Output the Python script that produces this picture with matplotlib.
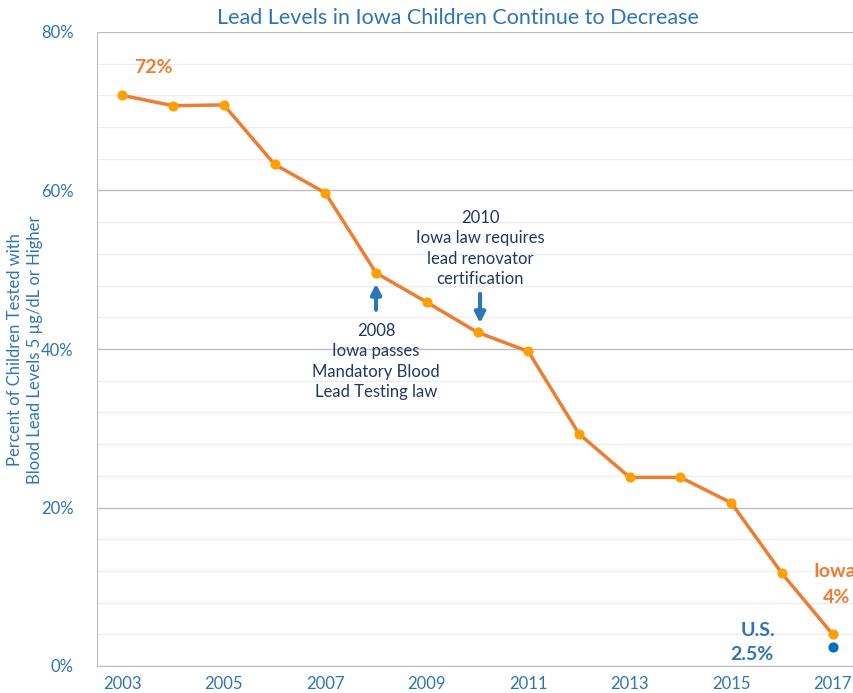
import matplotlib
matplotlib.use('Agg')
import matplotlib.pyplot as plt
from matplotlib.ticker import MultipleLocator, PercentFormatter

years = list(range(2003, 2018))
iowa_pct = [72.0, 70.7, 70.8, 63.3, 59.7, 49.6, 45.9, 42.1, 39.7, 29.3, 23.8, 23.8, 20.6, 11.7, 4.0]
us_year = 2017
us_pct = 2.4
xtick_years = [2003, 2005, 2007, 2009, 2011, 2013, 2015, 2017]

title = 'Lead Levels in Iowa Children Continue to Decrease'
ylabel = 'Percent of Children Tested with\nBlood Lead Levels 5 µg/dL or Higher'
note_2008 = '2008\nIowa passes\nMandatory Blood\nLead Testing law'
note_2010 = '2010\nIowa law requires\nlead renovator\ncertification'

ORANGE = '#ED7D31'
AMBER = '#FFA000'
BLUE = '#2E75B6'
DARK = '#1F3864'

plt.rcParams['font.family'] = ['Lato', 'DejaVu Sans']

fig = plt.figure(figsize=(8.54, 6.93), dpi=100)
ax = fig.add_axes([97/854, 1 - 666/693, 761/854, 634/693])

ax.plot(years, iowa_pct, color=ORANGE, lw=2.5, zorder=3)
ax.scatter(years, iowa_pct, s=40, color=AMBER, zorder=4)
ax.scatter([us_year], [us_pct], s=40, color='#0070C0', zorder=4)

ax.set_xlim(2002.5, 2017.5)
ax.set_ylim(0, 80)
ax.yaxis.set_major_locator(MultipleLocator(20))
ax.yaxis.set_minor_locator(MultipleLocator(4))
ax.yaxis.set_major_formatter(PercentFormatter(decimals=0))
ax.set_xticks(xtick_years)
ax.grid(axis='y', which='major', color='#BFBFBF', lw=1)
ax.grid(axis='y', which='minor', color='#EEEEEE', lw=1)
ax.set_axisbelow(True)
ax.tick_params(which='both', length=0)
ax.tick_params(axis='both', labelsize=12, labelcolor=BLUE)
ax.tick_params(axis='x', pad=13)
ax.tick_params(axis='y', pad=17)
for s in ['top', 'right']:
    ax.spines[s].set_visible(False)
for s in ['left', 'bottom']:
    ax.spines[s].set_color('#BFBFBF')
for lbl in ax.get_xticklabels():
    lbl.set_va('center')

fig.text(458/854, 1 - 18/693, title, color=BLUE, fontsize=15.5, ha='center', va='center')
fig.text(25/854, 1 - 350/693, ylabel, color=BLUE, fontsize=12, rotation=90,
         ha='center', va='center', multialignment='center', linespacing=1.3)

ax.text(2003.62, 75.5, '72%', color=ORANGE, fontsize=14, fontweight='bold', ha='center', va='center')
ax.text(2017.05, 11.9, 'Iowa', color=ORANGE, fontsize=14, fontweight='bold', ha='center', va='center')
ax.text(2017.07, 8.7, '4%', color=ORANGE, fontsize=14, fontweight='bold', ha='center', va='center')
ax.text(2015.53, 4.5, 'U.S.', color=BLUE, fontsize=14, fontweight='bold', ha='center', va='center')
ax.text(2015.41, 1.4, '2.5%', color=BLUE, fontsize=14, fontweight='bold', ha='center', va='center')

ax.text(2008.0, 43.3, note_2008, color=DARK, fontsize=12, ha='center', va='top', linespacing=1.35)
ax.text(2010.05, 57.6, note_2010, color=DARK, fontsize=12, ha='center', va='top', linespacing=1.35)

ax.annotate('', xy=(2008.0, 48.6), xytext=(2008.0, 44.6),
            arrowprops=dict(arrowstyle='-|>', color=BLUE, lw=3, mutation_scale=15))
ax.annotate('', xy=(2010.05, 42.9), xytext=(2010.05, 47.3),
            arrowprops=dict(arrowstyle='-|>', color=BLUE, lw=3, mutation_scale=15))

fig.savefig('out.png', dpi=100)
